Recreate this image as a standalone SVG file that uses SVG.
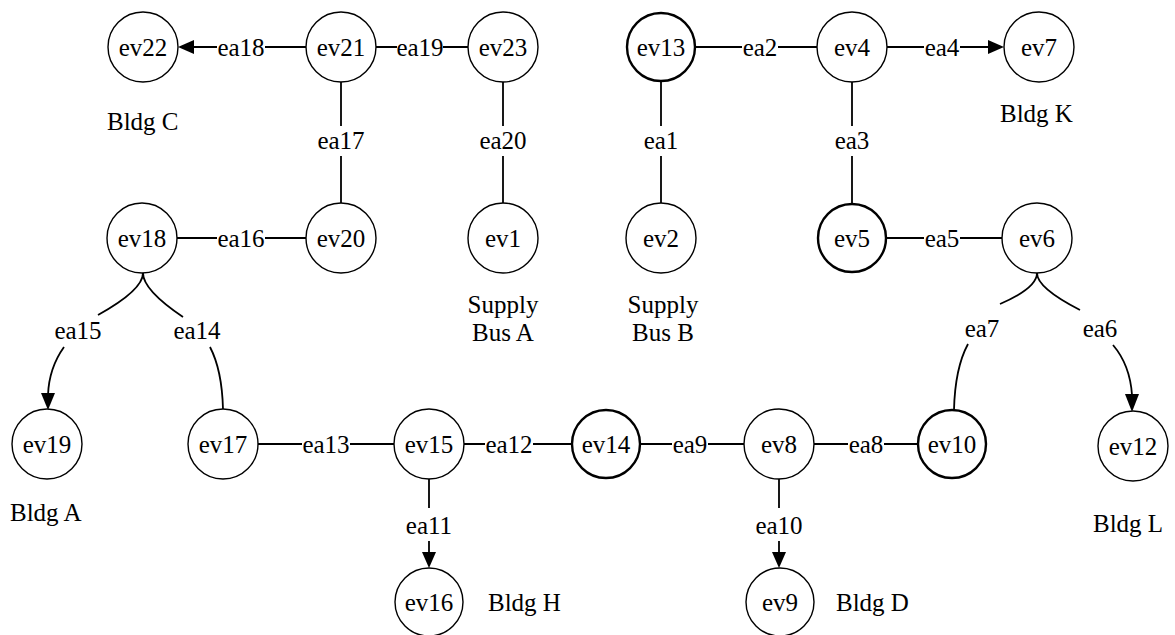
<svg xmlns="http://www.w3.org/2000/svg" width="1175" height="635" viewBox="0 0 1175 635">
<style>
  .bg{fill:#ffffff}
  .n circle{fill:#ffffff;stroke:#000;stroke-width:1.4}
  .n.thick circle{stroke-width:2.4}
  .n text,.t{font-family:"Liberation Serif","Times New Roman",serif;font-size:25px;fill:#000}
  .n text{text-anchor:middle}
  .e path{fill:none;stroke:#000;stroke-width:1.8}
  .e polygon{fill:#000;stroke:none}
  .e text{font-family:"Liberation Serif","Times New Roman",serif;font-size:25px;fill:#000;text-anchor:middle}
  .t.c{text-anchor:middle}
</style>
<rect class="bg" x="0" y="0" width="1175" height="635"/>

<g id="connectors" class="e">
  <!-- ea18 ev21 -> ev22 -->
  <g id="ea18"><path d="M306,47 H265 M217,47 H193"/><polygon points="178,47 194,40 194,54"/><text x="241" y="56">ea18</text></g>
  <g id="ea19"><path d="M376,47 H397 M443,47 H468"/><text x="420" y="56">ea19</text></g>
  <g id="ea2"><path d="M696,47 H742 M778,47 H817"/><text x="760" y="56">ea2</text></g>
  <g id="ea4"><path d="M887,47 H924 M960,47 H990"/><polygon points="1004,47 988,40 988,54"/><text x="942" y="56">ea4</text></g>
  <g id="ea17"><path d="M341,82 V126 M341,156 V203"/><text x="341" y="149">ea17</text></g>
  <g id="ea20"><path d="M503,82 V126 M503,156 V203"/><text x="503" y="149">ea20</text></g>
  <g id="ea1"><path d="M661,82 V126 M661,156 V203"/><text x="661" y="149">ea1</text></g>
  <g id="ea3"><path d="M852,82 V126 M852,156 V203"/><text x="852" y="149">ea3</text></g>
  <g id="ea16"><path d="M177,238 H217 M265,238 H306"/><text x="241" y="247">ea16</text></g>
  <g id="ea5"><path d="M887,238 H924 M960,238 H1002"/><text x="942" y="247">ea5</text></g>
  <g id="ea15"><path d="M143,273 Q143,290 98,315 M64,347 Q49,368 48,395"/><polygon points="48,410 41,393 55,393"/><text x="78" y="339">ea15</text></g>
  <g id="ea14"><path d="M143,273 Q143,290 183,317 M210,347 Q222,370 223,409"/><text x="197" y="339">ea14</text></g>
  <g id="ea7"><path d="M1037,273 Q1037,288 1000,304 M968,344 Q955,368 954,410"/><text x="982" y="337">ea7</text></g>
  <g id="ea6"><path d="M1037,273 Q1037,288 1080,310 M1113,345 Q1130,365 1132,395"/><polygon points="1132,412 1125,394 1139,394"/><text x="1100" y="337">ea6</text></g>
  <g id="ea13"><path d="M258,444 H302 M350,444 H394"/><text x="326" y="453">ea13</text></g>
  <g id="ea12"><path d="M464,444 H485 M533,444 H571"/><text x="509" y="453">ea12</text></g>
  <g id="ea9"><path d="M641,444 H672 M708,444 H744"/><text x="690" y="453">ea9</text></g>
  <g id="ea8"><path d="M814,444 H848 M884,444 H917"/><text x="866" y="453">ea8</text></g>
  <g id="ea11"><path d="M429,479 V508 M429,541 V554"/><polygon points="429,568 422,552 436,552"/><text x="429" y="534">ea11</text></g>
  <g id="ea10"><path d="M779,479 V508 M779,541 V554"/><polygon points="779,568 772,552 786,552"/><text x="779" y="534">ea10</text></g>
</g>

<g id="ev22" class="n"><circle cx="143" cy="47" r="35"/><text x="143" y="56">ev22</text></g>
<g id="ev21" class="n"><circle cx="341" cy="47" r="35"/><text x="341" y="56">ev21</text></g>
<g id="ev23" class="n"><circle cx="503" cy="47" r="35"/><text x="503" y="56">ev23</text></g>
<g id="ev13" class="n thick"><circle cx="661" cy="47" r="34"/><text x="661" y="56">ev13</text></g>
<g id="ev4" class="n"><circle cx="852" cy="47" r="35"/><text x="852" y="56">ev4</text></g>
<g id="ev7" class="n"><circle cx="1039" cy="47" r="35"/><text x="1039" y="56">ev7</text></g>

<g id="ev18" class="n"><circle cx="142" cy="238" r="35"/><text x="142" y="247">ev18</text></g>
<g id="ev20" class="n"><circle cx="341" cy="238" r="35"/><text x="341" y="247">ev20</text></g>
<g id="ev1" class="n"><circle cx="503" cy="238" r="35"/><text x="503" y="247">ev1</text></g>
<g id="ev2" class="n"><circle cx="661" cy="238" r="35"/><text x="661" y="247">ev2</text></g>
<g id="ev5" class="n thick"><circle cx="852" cy="238" r="34"/><text x="852" y="247">ev5</text></g>
<g id="ev6" class="n"><circle cx="1037" cy="238" r="35"/><text x="1037" y="247">ev6</text></g>

<g id="ev19" class="n"><circle cx="47" cy="444" r="35"/><text x="47" y="453">ev19</text></g>
<g id="ev17" class="n"><circle cx="223" cy="444" r="35"/><text x="223" y="453">ev17</text></g>
<g id="ev15" class="n"><circle cx="429" cy="444" r="35"/><text x="429" y="453">ev15</text></g>
<g id="ev14" class="n thick"><circle cx="606" cy="444" r="34"/><text x="606" y="453">ev14</text></g>
<g id="ev8" class="n"><circle cx="779" cy="444" r="35"/><text x="779" y="453">ev8</text></g>
<g id="ev10" class="n thick"><circle cx="952" cy="444" r="34"/><text x="952" y="453">ev10</text></g>
<g id="ev12" class="n"><circle cx="1133" cy="446" r="35"/><text x="1133" y="455">ev12</text></g>

<g id="ev16" class="n"><circle cx="429" cy="602" r="34"/><text x="429" y="611">ev16</text></g>
<g id="ev9" class="n"><circle cx="780" cy="602" r="34"/><text x="780" y="611">ev9</text></g>

<g id="labels">
  <text class="t" x="107" y="130">Bldg C</text>
  <text class="t" x="1000" y="122">Bldg K</text>
  <text class="t c" x="503" y="313">Supply</text>
  <text class="t c" x="503" y="341">Bus A</text>
  <text class="t c" x="663" y="313">Supply</text>
  <text class="t c" x="663" y="341">Bus B</text>
  <text class="t" x="10" y="521">Bldg A</text>
  <text class="t" x="1093" y="532">Bldg L</text>
  <text class="t" x="488" y="611">Bldg H</text>
  <text class="t" x="836" y="611">Bldg D</text>
</g>
</svg>
